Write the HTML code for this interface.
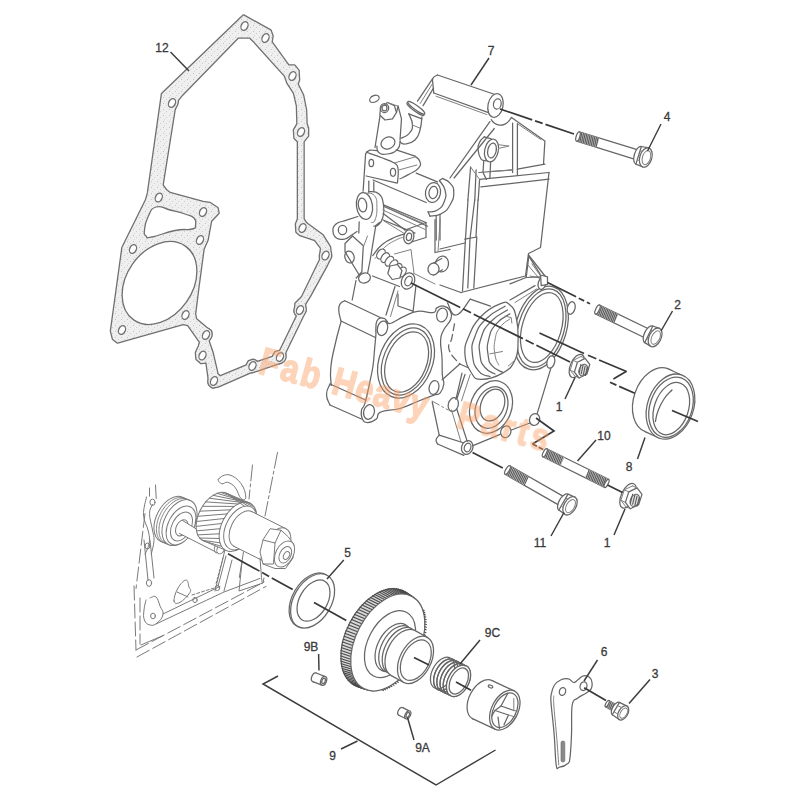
<!DOCTYPE html>
<html><head><meta charset="utf-8"><title>Parts diagram</title>
<style>
html,body{margin:0;padding:0;background:#fff;}
body{width:800px;height:800px;overflow:hidden;font-family:"Liberation Sans",sans-serif;}
svg{display:block;filter:blur(0.4px)}
.l{fill:none;stroke:#666;stroke-width:1.25;stroke-linejoin:round;stroke-linecap:round}
.lt{fill:none;stroke:#808080;stroke-width:1;stroke-linejoin:round;stroke-linecap:round}
.lf{fill:#fff;stroke:#666;stroke-width:1.25;stroke-linejoin:round;stroke-linecap:round}
.p{fill:none;stroke:#7a7a7a;stroke-width:1;stroke-linejoin:round;stroke-linecap:round}
.pf{fill:#fff;stroke:#7a7a7a;stroke-width:1;stroke-linejoin:round;stroke-linecap:round}
.th{fill:#bdbdbd;stroke:none}
.tl{fill:none;stroke:#555;stroke-width:1}
.hole{fill:#ddd;stroke:#666;stroke-width:1}
.wf{fill:#fff;stroke:none}
.tb{fill:#d8d8d8;stroke:#555;stroke-width:1.2}
.tt{fill:none;stroke:#4a4a4a;stroke-width:1.1}
.d{fill:none;stroke:#383838;stroke-width:1.7;stroke-linecap:butt}
.g{fill:#ebebeb;stroke:#707070;stroke-width:1.3;stroke-linejoin:round;fill-rule:evenodd}
.gs{fill:none;stroke:#707070;stroke-width:2.6;stroke-linejoin:round}
.gf{fill:url(#stp);stroke:none;fill-rule:evenodd}
.gh{fill:#fff;stroke:#707070;stroke-width:1.3}
text{font-family:"Liberation Sans",sans-serif;fill:#3a3a3a;stroke:#3a3a3a;stroke-width:0.3}
.ld{fill:none;stroke:#3c3c3c;stroke-width:1.45;stroke-linecap:butt}
</style></head><body>
<svg width="800" height="800" viewBox="0 0 800 800">
<rect width="800" height="800" fill="#fff"/>
<defs><pattern id="stp" width="6" height="6" patternUnits="userSpaceOnUse"><rect width="6" height="6" fill="#efefef"/><rect x="1" y="1" width="1" height="1" fill="#c4c4c4"/><rect x="4" y="3" width="1" height="1" fill="#cfcfcf"/><rect x="2" y="5" width="1" height="1" fill="#d8d8d8"/></pattern></defs>
<path class="gs" d="M243.5,15.5 L270.5,30.5 L272.5,36 L271.5,42 L288.5,65.5 L294.5,65.5 L298.5,70.5 L299,80 L297.5,84 L303,95 L306,110 L306.5,124 L308,128 L308,136 L303.5,141.5 L303.5,219 L306,223 L322.5,235 L330,247 L331,257 L327,265 L310,296 L305,304 L305.5,311 L302.5,317 L285.5,352 L284,359 L279.5,363 L256,371 L250,372.5 L218,386.5 L212.5,387.5 L209,384 L208.5,377 L206.5,362.5 L201,363 L196.5,359 L196,352.5 L199,346 L200,342 L188,325 L183,324 L117.5,342.5 L113,339 L111,331 L122.5,247.5 L146,200 L148,193 L162,94 L164,92Z M238,37.5 L250,37.5 L254,41.5 L285,76 L287.5,83 L294,93 L297,106 L297.5,124 L294,130 L294.5,138 L298,141.5 L298,219 L296,224 L296.5,232 L300,235 L315,240 L321,248 L320,260 L318,264 L302,297 L295.5,303.5 L295,312 L297,316 L280,351 L275.5,352 L272.5,357 L256,362.5 L249,361 L246.5,365.5 L220,376.5 L217.5,374 L212.5,352.5 L208.5,341 L211,336 L211,331 L206,327.5 L196,319 L195,314 L198,290 L203.5,249 L207.5,240 L211,221 L218.5,213 L217.5,208 L210,203 L203,202 L170,193 L166,190 L162.5,185 L174.5,110 L178,100 L182,95Z" />
<ellipse class="gs" cx="244.5" cy="26.0" rx="5.4" ry="6.2" transform="rotate(25 244.5 26.0)" />
<ellipse class="gs" cx="265.5" cy="38.0" rx="5.4" ry="6.2" transform="rotate(25 265.5 38.0)" />
<ellipse class="gs" cx="292.5" cy="76.0" rx="5.4" ry="6.2" transform="rotate(25 292.5 76.0)" />
<ellipse class="gs" cx="301.0" cy="132.0" rx="5.4" ry="6.2" transform="rotate(25 301.0 132.0)" />
<ellipse class="gs" cx="302.5" cy="228.0" rx="5.4" ry="6.2" transform="rotate(25 302.5 228.0)" />
<ellipse class="gs" cx="325.5" cy="255.5" rx="5.4" ry="6.2" transform="rotate(25 325.5 255.5)" />
<ellipse class="gs" cx="300.0" cy="310.0" rx="5.4" ry="6.2" transform="rotate(25 300.0 310.0)" />
<ellipse class="gs" cx="280.0" cy="357.0" rx="5.4" ry="6.2" transform="rotate(25 280.0 357.0)" />
<ellipse class="gs" cx="252.5" cy="366.0" rx="5.4" ry="6.2" transform="rotate(25 252.5 366.0)" />
<ellipse class="gs" cx="214.0" cy="381.0" rx="5.4" ry="6.2" transform="rotate(25 214.0 381.0)" />
<ellipse class="gs" cx="202.5" cy="355.5" rx="5.4" ry="6.2" transform="rotate(25 202.5 355.5)" />
<ellipse class="gs" cx="206.0" cy="335.0" rx="5.4" ry="6.2" transform="rotate(25 206.0 335.0)" />
<ellipse class="gs" cx="185.5" cy="315.0" rx="5.4" ry="6.2" transform="rotate(25 185.5 315.0)" />
<ellipse class="gs" cx="122.0" cy="330.0" rx="5.4" ry="6.2" transform="rotate(25 122.0 330.0)" />
<ellipse class="gs" cx="133.0" cy="249.0" rx="5.4" ry="6.2" transform="rotate(25 133.0 249.0)" />
<ellipse class="gs" cx="158.8" cy="197.5" rx="5.4" ry="6.2" transform="rotate(25 158.8 197.5)" />
<ellipse class="gs" cx="203.0" cy="212.0" rx="5.4" ry="6.2" transform="rotate(25 203.0 212.0)" />
<ellipse class="gs" cx="200.0" cy="240.0" rx="5.4" ry="6.2" transform="rotate(25 200.0 240.0)" />
<ellipse class="gs" cx="172.0" cy="103.0" rx="5.4" ry="6.2" transform="rotate(25 172.0 103.0)" />
<path class="gf" d="M243.5,15.5 L270.5,30.5 L272.5,36 L271.5,42 L288.5,65.5 L294.5,65.5 L298.5,70.5 L299,80 L297.5,84 L303,95 L306,110 L306.5,124 L308,128 L308,136 L303.5,141.5 L303.5,219 L306,223 L322.5,235 L330,247 L331,257 L327,265 L310,296 L305,304 L305.5,311 L302.5,317 L285.5,352 L284,359 L279.5,363 L256,371 L250,372.5 L218,386.5 L212.5,387.5 L209,384 L208.5,377 L206.5,362.5 L201,363 L196.5,359 L196,352.5 L199,346 L200,342 L188,325 L183,324 L117.5,342.5 L113,339 L111,331 L122.5,247.5 L146,200 L148,193 L162,94 L164,92Z M238,37.5 L250,37.5 L254,41.5 L285,76 L287.5,83 L294,93 L297,106 L297.5,124 L294,130 L294.5,138 L298,141.5 L298,219 L296,224 L296.5,232 L300,235 L315,240 L321,248 L320,260 L318,264 L302,297 L295.5,303.5 L295,312 L297,316 L280,351 L275.5,352 L272.5,357 L256,362.5 L249,361 L246.5,365.5 L220,376.5 L217.5,374 L212.5,352.5 L208.5,341 L211,336 L211,331 L206,327.5 L196,319 L195,314 L198,290 L203.5,249 L207.5,240 L211,221 L218.5,213 L217.5,208 L210,203 L203,202 L170,193 L166,190 L162.5,185 L174.5,110 L178,100 L182,95Z" />
<ellipse class="gf" cx="244.5" cy="26.0" rx="5.4" ry="6.2" transform="rotate(25 244.5 26.0)" />
<ellipse class="gf" cx="265.5" cy="38.0" rx="5.4" ry="6.2" transform="rotate(25 265.5 38.0)" />
<ellipse class="gf" cx="292.5" cy="76.0" rx="5.4" ry="6.2" transform="rotate(25 292.5 76.0)" />
<ellipse class="gf" cx="301.0" cy="132.0" rx="5.4" ry="6.2" transform="rotate(25 301.0 132.0)" />
<ellipse class="gf" cx="302.5" cy="228.0" rx="5.4" ry="6.2" transform="rotate(25 302.5 228.0)" />
<ellipse class="gf" cx="325.5" cy="255.5" rx="5.4" ry="6.2" transform="rotate(25 325.5 255.5)" />
<ellipse class="gf" cx="300.0" cy="310.0" rx="5.4" ry="6.2" transform="rotate(25 300.0 310.0)" />
<ellipse class="gf" cx="280.0" cy="357.0" rx="5.4" ry="6.2" transform="rotate(25 280.0 357.0)" />
<ellipse class="gf" cx="252.5" cy="366.0" rx="5.4" ry="6.2" transform="rotate(25 252.5 366.0)" />
<ellipse class="gf" cx="214.0" cy="381.0" rx="5.4" ry="6.2" transform="rotate(25 214.0 381.0)" />
<ellipse class="gf" cx="202.5" cy="355.5" rx="5.4" ry="6.2" transform="rotate(25 202.5 355.5)" />
<ellipse class="gf" cx="206.0" cy="335.0" rx="5.4" ry="6.2" transform="rotate(25 206.0 335.0)" />
<ellipse class="gf" cx="185.5" cy="315.0" rx="5.4" ry="6.2" transform="rotate(25 185.5 315.0)" />
<ellipse class="gf" cx="122.0" cy="330.0" rx="5.4" ry="6.2" transform="rotate(25 122.0 330.0)" />
<ellipse class="gf" cx="133.0" cy="249.0" rx="5.4" ry="6.2" transform="rotate(25 133.0 249.0)" />
<ellipse class="gf" cx="158.8" cy="197.5" rx="5.4" ry="6.2" transform="rotate(25 158.8 197.5)" />
<ellipse class="gf" cx="203.0" cy="212.0" rx="5.4" ry="6.2" transform="rotate(25 203.0 212.0)" />
<ellipse class="gf" cx="200.0" cy="240.0" rx="5.4" ry="6.2" transform="rotate(25 200.0 240.0)" />
<ellipse class="gf" cx="172.0" cy="103.0" rx="5.4" ry="6.2" transform="rotate(25 172.0 103.0)" />
<ellipse class="gh" cx="159.5" cy="283.0" rx="45.0" ry="33.0" transform="rotate(-55 159.5 283.0)" />
<path class="gh" d="M156.0,207.0 C161.9,205.1 162.3,208.1 170.0,210.0 C177.7,211.9 178.6,211.9 185.0,214.0 C191.4,216.1 191.2,215.1 194.0,218.0 C196.8,220.9 196.0,222.1 195.5,225.0 C195.0,227.9 197.5,227.5 192.0,229.0 C186.5,230.5 185.7,228.4 175.0,230.5 C164.3,232.6 159.7,235.5 152.0,237.0 C144.3,238.5 148.0,237.9 146.0,236.0 C144.0,234.1 144.0,235.1 144.5,230.0 C145.0,224.9 144.9,223.1 148.0,217.0 C151.1,210.9 150.1,208.9 156.0,207.0Z" />
<ellipse class="gh" cx="244.5" cy="26.0" rx="3.3" ry="4.6" transform="rotate(25 244.5 26.0)" />
<ellipse class="gh" cx="265.5" cy="38.0" rx="3.3" ry="4.6" transform="rotate(25 265.5 38.0)" />
<ellipse class="gh" cx="292.5" cy="76.0" rx="3.3" ry="4.6" transform="rotate(25 292.5 76.0)" />
<ellipse class="gh" cx="301.0" cy="132.0" rx="3.3" ry="4.6" transform="rotate(25 301.0 132.0)" />
<ellipse class="gh" cx="302.5" cy="228.0" rx="3.3" ry="4.6" transform="rotate(25 302.5 228.0)" />
<ellipse class="gh" cx="325.5" cy="255.5" rx="3.3" ry="4.6" transform="rotate(25 325.5 255.5)" />
<ellipse class="gh" cx="300.0" cy="310.0" rx="3.3" ry="4.6" transform="rotate(25 300.0 310.0)" />
<ellipse class="gh" cx="280.0" cy="357.0" rx="3.3" ry="4.6" transform="rotate(25 280.0 357.0)" />
<ellipse class="gh" cx="252.5" cy="366.0" rx="3.3" ry="4.6" transform="rotate(25 252.5 366.0)" />
<ellipse class="gh" cx="214.0" cy="381.0" rx="3.3" ry="4.6" transform="rotate(25 214.0 381.0)" />
<ellipse class="gh" cx="202.5" cy="355.5" rx="3.3" ry="4.6" transform="rotate(25 202.5 355.5)" />
<ellipse class="gh" cx="206.0" cy="335.0" rx="3.3" ry="4.6" transform="rotate(25 206.0 335.0)" />
<ellipse class="gh" cx="185.5" cy="315.0" rx="3.3" ry="4.6" transform="rotate(25 185.5 315.0)" />
<ellipse class="gh" cx="122.0" cy="330.0" rx="3.3" ry="4.6" transform="rotate(25 122.0 330.0)" />
<ellipse class="gh" cx="133.0" cy="249.0" rx="3.3" ry="4.6" transform="rotate(25 133.0 249.0)" />
<ellipse class="gh" cx="158.8" cy="197.5" rx="3.3" ry="4.6" transform="rotate(25 158.8 197.5)" />
<ellipse class="gh" cx="203.0" cy="212.0" rx="3.3" ry="4.6" transform="rotate(25 203.0 212.0)" />
<ellipse class="gh" cx="200.0" cy="240.0" rx="3.3" ry="4.6" transform="rotate(25 200.0 240.0)" />
<ellipse class="gh" cx="172.0" cy="103.0" rx="3.3" ry="4.6" transform="rotate(25 172.0 103.0)" />
<polyline class="l" points="437.5,75.0 495.0,94.5" />
<polyline class="l" points="433.8,93.0 488.5,112.7" />
<polyline class="lt" points="436.0,96.2 487.0,114.6" />
<path class="l" d="M437.5,75 C434,76.5 432.3,77.5 432.5,80 L433.75,93" />
<ellipse class="lf" cx="495.5" cy="105.5" rx="7.5" ry="12.0" transform="rotate(12 495.5 105.5)" />
<ellipse class="lf" cx="497.3" cy="104.0" rx="3.8" ry="5.2" transform="rotate(12 497.3 104.0)" />
<polyline class="l" points="432.5,78.8 417.5,101.2" />
<polyline class="l" points="433.5,88.1 423.1,105.6" />
<polyline class="lt" points="432.8,83.1 420.2,103.5" />
<ellipse class="lf" cx="415.5" cy="109.0" rx="10.5" ry="2.2" transform="rotate(36 415.5 109.0)" />
<ellipse class="lf" cx="416.3" cy="107.8" rx="10.5" ry="2.2" transform="rotate(36 416.3 107.8)" />
<path class="l" d="M421.9,116.9 C421.4,120.4 421.8,123.8 420.0,130.0 C418.2,136.2 419.0,136.3 415.0,140.0 C411.0,143.7 409.0,143.5 405.0,144.0 C401.0,144.5 401.3,142.4 400.0,141.9" />
<path class="l" d="M408.8,113.8 C409.8,116.8 412.5,119.7 412.5,125.0 C412.5,130.3 411.8,130.2 408.8,133.8 C405.8,137.2 403.2,137.0 401.2,138.1" />
<polyline class="l" points="408.8,113.8 421.9,118.8" />
<polyline class="lt" points="412.5,125.0 420.0,128.1" />
<ellipse class="l" cx="374.4" cy="98.8" rx="5.0" ry="3.2" transform="rotate(-25 374.4 98.8)" />
<polyline class="l" points="380.0,116.2 375.0,147.5" />
<polyline class="l" points="398.1,106.2 401.5,118.8 400.0,140.0" />
<path class="l" d="M376.9,146.2 C377.4,147.9 375.9,150.4 378.8,152.5 C381.6,154.6 382.5,154.8 387.5,154.0 C392.5,153.2 394.1,152.8 397.5,149.4 C400.9,146.0 399.5,143.4 400.2,141.2" />
<ellipse class="l" cx="388.0" cy="143.0" rx="7.2" ry="5.8" transform="rotate(-25 388.0 143.0)" />
<polygon class="l" points="387.5,102.5 394.4,105.6 396.5,112.5 392.5,118.8 385.0,120.0 379.8,115.0 380.6,107.5" />
<ellipse class="l" cx="384.5" cy="108.0" rx="4.2" ry="4.5" transform="rotate(0 384.5 108.0)" />
<ellipse class="l" cx="384.5" cy="108.0" rx="2.5" ry="2.8" transform="rotate(0 384.5 108.0)" />
<polyline class="l" points="396.5,112.5 398.1,106.2" />
<polyline class="lt" points="380.6,107.5 387.5,102.5 398.1,106.2" />
<polyline class="l" points="366.9,151.9 365.6,153.8 363.1,191.2" />
<polyline class="l" points="366.9,151.9 370.0,150.0 376.9,150.6" />
<polyline class="l" points="396.2,149.8 415.0,156.2" />
<path class="l" d="M366.9,152.5 C369.8,153.5 375.8,155.4 381.2,157.5 C386.8,159.6 391.0,160.8 394.4,163.1 C397.8,165.5 397.5,165.5 398.1,169.4 C398.8,173.2 397.6,179.9 397.5,182.5" />
<polyline class="l" points="366.2,176.0 397.2,183.1" />
<path class="l" d="M415.0,156.2 C416.3,157.6 418.8,158.1 419.8,161.2 C420.7,164.4 421.4,164.6 418.5,168.1 C415.6,171.6 413.7,171.5 408.8,174.4 C403.8,177.2 402.3,177.6 400.0,178.8" />
<polyline class="lt" points="395.0,162.8 415.0,156.9" />
<polyline class="lt" points="399.4,169.8 416.9,165.0" />
<ellipse class="l" cx="371.3" cy="163.0" rx="2.3" ry="3.6" transform="rotate(0 371.3 163.0)" />
<ellipse class="l" cx="393.0" cy="172.3" rx="2.6" ry="4.0" transform="rotate(0 393.0 172.3)" />
<polyline class="l" points="416.2,173.1 437.5,181.9" />
<polyline class="l" points="373.1,180.0 426.2,202.5" />
<ellipse class="lf" cx="433.0" cy="192.5" rx="7.5" ry="10.0" transform="rotate(10 433.0 192.5)" />
<ellipse class="lf" cx="433.3" cy="192.5" rx="4.3" ry="6.2" transform="rotate(10 433.3 192.5)" />
<path class="l" d="M442.5,178.5 C444.5,179.7 447.0,179.4 450.0,183.1 C453.0,186.9 453.8,186.7 453.8,192.5 C453.8,198.3 453.3,199.3 450.0,205.0 C446.7,210.7 446.6,210.8 441.2,213.8 C435.9,216.8 433.0,215.6 430.0,216.2" />
<path class="l" d="M439.4,180.6 C440.9,183.1 443.7,184.5 445.0,190.0 C446.3,195.5 446.4,195.9 444.4,201.2 C442.4,206.6 441.8,207.2 437.5,210.0 C433.2,212.8 430.6,211.4 428.1,211.9" />
<polyline class="l" points="439.4,180.6 442.5,178.5" />
<polyline class="l" points="428.1,211.9 430.0,216.2" />
<polyline class="l" points="436.2,215.6 436.2,240.0" />
<polyline class="l" points="440.0,214.4 440.0,240.0" />
<polyline class="l" points="368.8,181.2 368.8,192.5" />
<polyline class="l" points="373.8,181.9 373.8,191.2" />
<ellipse class="lf" cx="364.5" cy="206.0" rx="8.0" ry="13.5" transform="rotate(-8 364.5 206.0)" />
<path class="l" d="M368.8,191.5 C371.4,192.1 374.8,190.2 378.8,193.8 C382.7,197.3 382.4,198.7 383.5,205.0 C384.6,211.3 384.2,212.2 382.8,217.5 C381.3,222.8 380.5,222.7 378.1,225.0 C375.7,227.3 374.9,225.9 373.8,226.2" />
<path class="lt" d="M365.0,193.1 C367.5,193.8 371.2,191.8 374.4,195.6 C377.5,199.5 376.7,201.0 376.9,207.5 C377.0,214.0 376.5,216.0 375.0,220.0 C373.5,224.0 372.2,221.8 371.2,222.5" />
<ellipse class="l" cx="362.5" cy="205.0" rx="4.2" ry="7.0" transform="rotate(-8 362.5 205.0)" />
<polyline class="l" points="383.5,206.2 427.5,226.2" />
<polyline class="lt" points="382.8,210.0 425.0,229.4" />
<polyline class="l" points="383.1,220.0 415.0,233.1" />
<path class="l" d="M491.2,119.6 C492.5,120.8 492.4,122.9 496.1,124.1 C499.7,125.3 500.9,125.9 505.0,124.1 C509.1,122.3 509.7,119.3 511.5,117.5" />
<polyline class="l" points="489.9,121.6 450.0,178.0" />
<polyline class="l" points="494.3,128.5 454.1,178.0" />
<polyline class="l" points="512.6,123.0 512.6,172.5" />
<polyline class="l" points="517.4,123.7 517.4,175.2" />
<polyline class="l" points="511.5,117.5 544.9,140.9 543.5,164.2" />
<polyline class="lt" points="517.4,123.7 540.8,139.5" />
<polyline class="l" points="484.4,136.8 491.2,138.8" />
<path class="l" d="M484.4,136.8 C483.1,138.2 481.2,138.6 479.6,142.2 C477.9,145.9 477.8,146.1 478.2,150.5 C478.6,154.9 478.8,156.0 480.9,158.8 C483.0,161.5 484.7,160.3 486.0,160.8" />
<ellipse class="lf" cx="491.5" cy="150.5" rx="6.8" ry="11.5" transform="rotate(12 491.5 150.5)" />
<ellipse class="lf" cx="492.0" cy="150.5" rx="4.2" ry="7.6" transform="rotate(12 492.0 150.5)" />
<polyline class="lt" points="498.4,144.7 509.1,146.1 498.4,148.4" />
<polyline class="l" points="483.7,161.5 483.0,172.5 486.4,179.4" />
<polyline class="l" points="490.6,162.2 489.9,178.0" />
<polyline class="l" points="478.9,172.5 512.6,169.8" />
<polyline class="lt" points="491.2,171.4 512.6,170.0" />
<polyline class="l" points="517.4,169.1 544.9,164.2" />
<polyline class="l" points="479.6,179.4 549.0,172.5" />
<polyline class="l" points="480.9,186.9 549.0,179.1" />
<polyline class="l" points="470.6,167.0 467.9,200.0" />
<polyline class="l" points="476.1,169.8 474.8,200.0" />
<polyline class="l" points="479.6,179.4 478.2,200.0" />
<polyline class="lt" points="470.6,167.0 479.6,179.4" />
<polyline class="l" points="549.0,172.5 540.5,247.5 528.5,253.5 525.5,276.0 461.0,292.5" />
<polyline class="l" points="468.0,200.0 465.5,238.5 462.5,291.0" />
<polyline class="l" points="474.7,200.0 470.0,238.5 467.8,288.0" />
<polyline class="l" points="478.0,200.0 476.0,237.0" />
<polyline class="l" points="464.8,239.2 476.8,237.0 473.8,288.0" />
<polyline class="l" points="440.0,249.0 464.8,243.0" />
<polyline class="l" points="440.0,285.0 461.0,292.5" />
<polyline class="l" points="528.5,255.0 545.0,276.0" />
<polyline class="lt" points="527.0,264.0 543.5,283.5" />
<polyline class="lt" points="530.0,276.0 545.0,279.0" />
<path class="l" d="M357.8,216.5 C355.1,217.4 351.6,218.5 346.5,220.2 C341.4,222.0 339.1,221.4 336.0,224.0 C332.9,226.6 332.8,228.2 333.0,231.5 C333.2,234.8 333.9,236.5 336.8,238.2 C339.6,240.0 341.9,239.5 345.0,239.0 C348.1,238.5 347.4,237.8 350.2,236.0 C353.1,234.2 355.4,232.6 357.0,231.5" />
<ellipse class="l" cx="342.5" cy="230.0" rx="4.2" ry="4.6" transform="rotate(0 342.5 230.0)" />
<polyline class="l" points="352.5,236.0 363.3,245.8 361.8,272.0 356.2,278.0" />
<polyline class="l" points="352.5,236.0 345.0,243.5 345.0,251.8 359.2,275.0" />
<ellipse class="l" cx="349.5" cy="257.0" rx="4.6" ry="6.0" transform="rotate(-15 349.5 257.0)" />
<polyline class="l" points="359.2,221.8 358.8,233.0" />
<polyline class="l" points="375.8,225.5 370.2,260.0 367.5,273.5" />
<polyline class="l" points="379.5,222.5 375.8,225.5" />
<polyline class="lt" points="367.5,236.0 363.8,245.8" />
<ellipse class="lf" cx="364.5" cy="278.0" rx="6.0" ry="5.0" transform="rotate(-20 364.5 278.0)" />
<path class="l" d="M372.8,255.5 C375.4,252.5 376.3,249.2 382.5,244.2 C388.7,239.2 390.0,239.6 396.0,236.8 C402.0,233.9 402.6,234.6 405.0,233.8" />
<path class="lt" d="M375.0,258.5 C377.6,255.5 378.8,252.4 384.8,247.2 C390.8,242.1 392.2,242.0 397.5,239.3 C402.8,236.6 402.8,237.8 404.7,237.2" />
<polyline class="l" points="405.0,230.0 426.0,222.5 426.0,237.5 406.5,243.5" />
<ellipse class="lf" cx="408.8" cy="236.8" rx="5.0" ry="7.0" transform="rotate(10 408.8 236.8)" />
<ellipse class="l" cx="409.0" cy="236.8" rx="2.6" ry="3.8" transform="rotate(10 409.0 236.8)" />
<polyline class="l" points="384.0,205.2 426.0,222.5" />
<polyline class="l" points="383.2,213.5 405.0,230.0" />
<polyline class="lt" points="384.0,221.0 403.5,233.0" />
<polyline class="lt" points="387.0,207.5 423.0,223.2" />
<polyline class="l" points="435.0,219.5 435.0,252.5 450.0,249.5" />
<polyline class="lt" points="440.2,219.5 438.0,251.8" />
<ellipse class="lf" cx="381.0" cy="254.0" rx="3.6" ry="5.4" transform="rotate(35 381.0 254.0)" />
<ellipse class="lf" cx="385.2" cy="257.6" rx="3.6" ry="5.4" transform="rotate(35 385.2 257.6)" />
<ellipse class="lf" cx="389.4" cy="261.2" rx="3.6" ry="5.4" transform="rotate(35 389.4 261.2)" />
<ellipse class="lf" cx="393.6" cy="264.8" rx="3.6" ry="5.4" transform="rotate(35 393.6 264.8)" />
<ellipse class="lf" cx="397.8" cy="268.4" rx="3.6" ry="5.4" transform="rotate(35 397.8 268.4)" />
<ellipse class="lf" cx="402.0" cy="272.0" rx="3.6" ry="5.4" transform="rotate(35 402.0 272.0)" />
<polygon class="lf" points="390.0,266.0 397.5,264.5 402.0,270.5 399.8,278.0 392.2,279.5 387.8,273.5" />
<ellipse class="lf" cx="408.0" cy="281.0" rx="6.4" ry="8.4" transform="rotate(25 408.0 281.0)" />
<ellipse class="l" cx="408.5" cy="281.0" rx="3.4" ry="5.0" transform="rotate(25 408.5 281.0)" />
<ellipse class="lf" cx="442.0" cy="264.0" rx="6.5" ry="8.0" transform="rotate(10 442.0 264.0)" />
<polyline class="l" points="433.5,263.0 441.8,258.5" />
<polyline class="l" points="433.5,275.0 442.5,269.8" />
<ellipse class="lf" cx="433.5" cy="269.0" rx="5.5" ry="6.0" transform="rotate(10 433.5 269.0)" />
<polyline class="lt" points="394.5,254.0 411.0,249.5 414.0,273.5" />
<polyline class="lt" points="414.0,273.5 435.0,284.0" />
<polyline class="l" points="356.0,280.5 352.2,300.0" />
<polyline class="l" points="344.8,300.8 384.5,319.5" />
<polyline class="l" points="341.0,321.0 378.5,339.0" />
<path class="l" d="M344.8,300.8 C343.6,301.6 341.9,301.1 340.2,303.8 C338.6,306.4 338.6,305.9 338.8,310.5 C338.9,315.1 340.4,318.2 341.0,321.0" />
<ellipse class="lf" cx="382.3" cy="328.5" rx="6.0" ry="9.6" transform="rotate(12 382.3 328.5)" />
<ellipse class="l" cx="382.6" cy="328.5" rx="3.8" ry="6.4" transform="rotate(12 382.6 328.5)" />
<path class="l" d="M341.0,321.8 C339.4,327.9 337.7,332.8 335.0,345.0 C332.3,357.2 331.8,356.7 330.8,367.5 C329.8,378.3 331.1,380.7 331.2,385.5" />
<polyline class="l" points="372.5,276.0 399.5,286.5" />
<polyline class="l" points="395.0,286.5 386.0,315.0" />
<polyline class="lt" points="398.0,291.0 390.5,316.5" />
<polyline class="l" points="398.0,294.0 398.0,306.0 413.0,311.2" />
<polyline class="l" points="416.0,285.0 413.0,312.0" />
<path class="lf" d="M375.9,335.0 C376.4,328.5 374.9,324.9 376.9,321.0 C378.9,317.1 381.3,317.8 384.2,318.4 C387.2,319.0 385.0,324.0 389.5,323.6 C394.0,323.2 397.0,319.5 403.5,316.6 C410.0,313.8 410.6,312.3 417.5,311.4 C424.4,310.4 428.8,313.4 433.2,312.6 C437.7,311.8 434.3,309.4 436.8,307.9 C439.2,306.4 440.7,305.5 443.8,306.1 C446.8,306.7 448.2,307.4 449.9,310.5 C451.5,313.6 452.2,314.8 450.8,319.2 C449.3,323.7 446.1,324.9 443.8,329.8 C441.4,334.6 441.0,333.7 440.6,340.2 C440.2,346.8 441.6,349.6 442.0,357.8 C442.4,365.9 441.9,369.1 442.4,375.2 C442.8,381.4 444.2,379.9 443.8,384.0 C443.3,388.1 442.7,390.1 440.2,392.8 C437.8,395.4 438.6,393.3 433.2,395.4 C427.9,397.4 425.3,398.4 417.5,401.5 C409.7,404.6 408.6,406.1 400.0,408.5 C391.4,410.9 386.3,409.6 380.8,412.0 C375.2,414.4 379.4,416.6 376.4,419.0 C373.3,421.4 370.9,422.5 367.6,422.5 C364.4,422.5 363.8,421.9 362.4,419.0 C360.9,416.1 360.9,413.9 361.5,410.2 C362.1,406.6 363.2,409.4 365.0,403.2 C366.8,397.1 367.5,392.6 369.4,384.0 C371.2,375.4 371.6,374.7 372.9,366.5 C374.1,358.3 373.9,356.4 374.6,349.0 C375.3,341.6 375.3,341.5 375.9,335.0Z" />
<ellipse class="lf" cx="406.0" cy="361.0" rx="26.5" ry="38.5" transform="rotate(22 406.0 361.0)" />
<ellipse class="l" cx="406.3" cy="361.5" rx="23.0" ry="35.0" transform="rotate(22 406.3 361.5)" />
<ellipse class="l" cx="406.6" cy="362.0" rx="20.0" ry="31.5" transform="rotate(22 406.6 362.0)" />
<ellipse class="lf" cx="382.5" cy="328.3" rx="5.0" ry="7.4" transform="rotate(15 382.5 328.3)" />
<ellipse class="lf" cx="442.0" cy="315.0" rx="5.3" ry="7.0" transform="rotate(15 442.0 315.0)" />
<ellipse class="lf" cx="434.0" cy="387.5" rx="4.8" ry="7.0" transform="rotate(15 434.0 387.5)" />
<ellipse class="lf" cx="369.0" cy="412.0" rx="5.3" ry="7.4" transform="rotate(15 369.0 412.0)" />
<polyline class="l" points="330.0,384.0 365.0,399.8" />
<polyline class="l" points="330.0,405.0 361.5,419.0" />
<path class="l" d="M330.0,384.0 C329.1,386.8 326.5,388.9 326.5,394.5 C326.5,400.1 329.1,402.2 330.0,405.0" />
<ellipse class="lf" cx="541.0" cy="328.0" rx="25.5" ry="43.0" transform="rotate(16.6 541.0 328.0)" />
<ellipse class="l" cx="541.3" cy="328.0" rx="22.8" ry="40.3" transform="rotate(16.6 541.3 328.0)" />
<ellipse class="l" cx="541.8" cy="327.5" rx="19.5" ry="36.0" transform="rotate(16.6 541.8 327.5)" />
<path class="lf" d="M500.0,303.8 C506.7,301.1 506.2,301.8 510.0,305.0 C513.8,308.2 514.4,309.3 516.2,317.5 C518.1,325.7 518.4,330.1 518.1,340.0 C517.8,349.9 518.6,352.3 515.0,360.0 C511.4,367.7 510.4,368.6 502.5,373.1 C494.6,377.6 488.5,379.5 481.2,379.4 C474.0,379.2 475.0,378.2 471.2,372.5 C467.5,366.8 465.6,363.5 465.0,355.0 C464.4,346.5 465.0,345.3 468.8,336.2 C472.5,327.2 474.0,323.8 481.2,316.2 C488.5,308.7 493.3,306.4 500.0,303.8Z" />
<path class="l" d="M505.0,306.2 C500.0,309.6 494.2,310.8 486.2,318.8 C478.2,326.8 478.7,326.6 475.0,336.2 C471.3,345.9 471.5,345.7 472.5,355.0 C473.5,364.3 474.1,365.5 478.8,371.2 C483.4,377.0 487.0,375.1 490.0,376.5" />
<path class="l" d="M507.5,310.0 C503.2,313.0 498.2,313.9 491.2,321.2 C484.2,328.6 484.2,328.5 481.2,337.5 C478.2,346.5 479.0,347.0 480.0,355.0 C481.0,363.0 481.0,362.4 485.0,367.5 C489.0,372.6 492.3,372.3 495.0,374.0" />
<path class="l" d="M510.0,313.8 C506.3,316.4 501.9,317.1 496.2,323.8 C490.6,330.4 490.9,330.4 488.8,338.8 C486.6,347.1 487.1,347.7 488.1,355.0 C489.1,362.3 488.7,361.7 492.5,366.2 C496.3,370.8 499.8,370.6 502.5,372.1" />
<path class="lt" d="M510.0,318.8 C507.3,321.1 504.0,321.8 500.0,327.5 C496.0,333.2 496.3,332.7 495.0,340.0 C493.7,347.3 494.0,348.3 495.0,355.0 C496.0,361.7 497.8,362.3 498.8,365.0" />
<polyline class="lt" points="490.0,353.8 502.5,351.5" />
<polyline class="lt" points="505.0,316.2 511.2,317.5 511.9,323.1" />
<polyline class="lt" points="508.1,366.2 515.0,360.0" />
<path class="l" d="M447.5,302.8 C449.8,306.0 450.2,315.9 456.2,315.0 C462.3,314.1 466.5,303.4 470.2,299.2" />
<polyline class="l" points="470.2,299.2 490.4,306.2" />
<path class="l" d="M454.5,323.8 C453.8,327.5 453.3,330.8 451.9,337.8 C450.5,344.8 447.1,343.0 449.2,350.0 C451.4,357.0 456.9,360.3 459.8,364.0" stroke-dasharray="7 4"/>
<polyline class="l" points="459.8,364.0 442.2,379.8" />
<polyline class="l" points="465.0,374.5 456.2,400.8" />
<polyline class="lt" points="470.2,374.5 461.5,400.8" />
<polyline class="l" points="459.8,364.0 467.6,367.5" />
<ellipse class="lf" cx="550.8" cy="362.0" rx="3.8" ry="6.3" transform="rotate(15 550.8 362.0)" />
<ellipse class="lf" cx="542.0" cy="283.5" rx="3.8" ry="6.0" transform="rotate(15 542.0 283.5)" />
<polyline class="l" points="550.8,368.4 537.1,413.9" />
<ellipse class="lf" cx="491.0" cy="407.0" rx="20.5" ry="27.0" transform="rotate(22 491.0 407.0)" />
<ellipse class="l" cx="491.5" cy="407.5" rx="15.5" ry="21.5" transform="rotate(22 491.5 407.5)" />
<ellipse class="l" cx="492.5" cy="405.0" rx="11.5" ry="16.5" transform="rotate(22 492.5 405.0)" />
<ellipse class="lf" cx="453.3" cy="404.6" rx="5.0" ry="7.0" transform="rotate(15 453.3 404.6)" />
<ellipse class="lf" cx="505.8" cy="431.8" rx="5.0" ry="6.0" transform="rotate(20 505.8 431.8)" />
<ellipse class="lf" cx="534.6" cy="419.5" rx="5.0" ry="6.0" transform="rotate(20 534.6 419.5)" />
<polyline class="l" points="439.2,435.2 467.2,444.0" />
<polyline class="l" points="437.5,444.0 463.8,455.4" />
<path class="l" d="M439.2,435.2 C438.4,436.4 436.6,437.3 436.1,439.6 C435.6,442.0 437.1,442.8 437.5,444.0" />
<ellipse class="lf" cx="467.2" cy="447.5" rx="5.6" ry="7.0" transform="rotate(20 467.2 447.5)" />
<ellipse class="l" cx="467.6" cy="447.5" rx="3.2" ry="4.4" transform="rotate(20 467.6 447.5)" />
<polyline class="l" points="472.5,445.8 500.1,434.4" />
<polyline class="l" points="511.4,430.0 529.9,423.0" />
<polyline class="l" points="432.2,402.0 439.2,435.2" />
<polyline class="l" points="462.0,373.1 455.9,399.4" />
<polyline class="l" points="456.8,409.0 467.2,441.4" />
<polyline class="lt" points="451.5,409.9 461.1,442.2" />
<polyline class="lt" points="432.2,401.1 448.0,409.9" stroke-dasharray="8 3 2 3"/>
<ellipse class="lf" cx="571.2" cy="308.0" rx="3.8" ry="6.4" transform="rotate(15 571.2 308.0)" />
<polyline class="l" points="528.8,256.2 526.2,277.5" />
<polyline class="l" points="528.8,256.2 540.0,273.8" />
<polyline class="lt" points="531.9,263.8 541.2,276.9" />
<polyline class="l" points="510.0,283.8 526.2,277.5 540.6,276.9" />
<polyline class="lf" points="540.6,275.0 547.5,276.9 547.5,284.4 541.2,285.6 540.6,275.0" />
<polyline class="l" points="510.0,300.0 535.0,285.6" />
<polyline class="lt" points="515.0,302.5 536.9,288.8" />
<polyline class="l" points="579.4,131.8 639.6,150.4" />
<polyline class="l" points="576.6,141.2 636.7,159.8" />
<polygon class="th" points="579.9,132.0 599.5,138.0 596.6,147.4 577.0,141.3" />
<polyline class="tl" points="580.2,132.1 578.3,141.7" />
<polyline class="tl" points="581.8,132.6 579.9,142.2" />
<polyline class="tl" points="583.5,133.1 581.5,142.7" />
<polyline class="tl" points="585.1,133.6 583.1,143.2" />
<polyline class="tl" points="586.7,134.1 584.8,143.7" />
<polyline class="tl" points="588.3,134.6 586.4,144.2" />
<polyline class="tl" points="590.0,135.1 588.0,144.7" />
<polyline class="tl" points="591.6,135.6 589.6,145.2" />
<polyline class="tl" points="593.2,136.1 591.3,145.7" />
<polyline class="tl" points="594.8,136.6 592.9,146.2" />
<polyline class="tl" points="596.5,137.1 594.5,146.7" />
<polyline class="tl" points="598.1,137.6 596.1,147.2" />
<ellipse class="lf" cx="578.0" cy="136.5" rx="1.8" ry="4.9" transform="rotate(17.2 578.0 136.5)" />
<ellipse class="lf" cx="638.7" cy="155.3" rx="4.4" ry="9.2" transform="rotate(17.2 638.7 155.3)" />
<polygon class="lf" points="641.4,146.5 648.8,147.9 642.9,167.0 635.9,164.1" />
<ellipse class="lf" cx="645.8" cy="157.5" rx="6.0" ry="10.0" transform="rotate(17.2 645.8 157.5)" />
<polyline class="lt" points="640.0,151.0 642.5,151.2" />
<polyline class="lt" points="637.3,159.6 639.6,160.8" />
<ellipse class="lt" cx="646.4" cy="157.7" rx="4.0" ry="7.2" transform="rotate(17.2 646.4 157.7)" />
<polyline class="l" points="599.6,305.1 650.5,329.7" />
<polyline class="l" points="595.4,313.9 646.2,338.5" />
<polygon class="th" points="600.1,305.3 618.5,314.2 614.3,323.1 595.8,314.1" />
<polyline class="tl" points="600.4,305.4 597.0,314.7" />
<polyline class="tl" points="601.9,306.2 598.5,315.4" />
<polyline class="tl" points="603.4,306.9 600.0,316.2" />
<polyline class="tl" points="604.9,307.7 601.6,316.9" />
<polyline class="tl" points="606.5,308.4 603.1,317.7" />
<polyline class="tl" points="608.0,309.1 604.6,318.4" />
<polyline class="tl" points="609.5,309.9 606.2,319.1" />
<polyline class="tl" points="611.1,310.6 607.7,319.9" />
<polyline class="tl" points="612.6,311.4 609.2,320.6" />
<polyline class="tl" points="614.1,312.1 610.8,321.4" />
<polyline class="tl" points="615.7,312.8 612.3,322.1" />
<polyline class="tl" points="617.2,313.6 613.8,322.8" />
<ellipse class="lf" cx="597.5" cy="309.5" rx="1.8" ry="4.9" transform="rotate(25.8 597.5 309.5)" />
<ellipse class="lf" cx="648.8" cy="334.3" rx="4.4" ry="9.2" transform="rotate(25.8 648.8 334.3)" />
<polygon class="lf" points="652.8,326.0 659.5,328.4 650.8,346.4 644.8,342.6" />
<ellipse class="lf" cx="655.1" cy="337.4" rx="6.0" ry="10.0" transform="rotate(25.8 655.1 337.4)" />
<polyline class="lt" points="650.8,330.3 652.8,330.7" />
<polyline class="lt" points="646.9,338.4 648.4,339.7" />
<ellipse class="lt" cx="655.7" cy="337.6" rx="4.0" ry="7.2" transform="rotate(25.8 655.7 337.6)" />
<polyline class="l" points="509.9,465.7 565.5,497.6" />
<polyline class="l" points="505.1,474.3 560.6,506.1" />
<polygon class="th" points="510.4,466.0 529.0,476.7 524.2,485.2 505.5,474.5" />
<polyline class="tl" points="510.6,466.1 506.6,475.1" />
<polyline class="tl" points="512.1,467.0 508.1,476.0" />
<polyline class="tl" points="513.6,467.8 509.6,476.8" />
<polyline class="tl" points="515.1,468.7 511.1,477.7" />
<polyline class="tl" points="516.5,469.5 512.5,478.5" />
<polyline class="tl" points="518.0,470.4 514.0,479.4" />
<polyline class="tl" points="519.5,471.2 515.5,480.2" />
<polyline class="tl" points="521.0,472.1 517.0,481.1" />
<polyline class="tl" points="522.4,472.9 518.4,481.9" />
<polyline class="tl" points="523.9,473.7 519.9,482.8" />
<polyline class="tl" points="525.4,474.6 521.4,483.6" />
<polyline class="tl" points="526.9,475.4 522.9,484.4" />
<polyline class="tl" points="528.3,476.3 524.3,485.3" />
<ellipse class="lf" cx="507.5" cy="470.0" rx="1.8" ry="4.9" transform="rotate(29.8 507.5 470.0)" />
<ellipse class="lf" cx="563.5" cy="502.1" rx="4.4" ry="9.2" transform="rotate(29.8 563.5 502.1)" />
<polygon class="lf" points="568.0,494.1 574.9,497.1 565.0,514.5 558.9,510.0" />
<ellipse class="lf" cx="570.0" cy="505.8" rx="6.0" ry="10.0" transform="rotate(29.8 570.0 505.8)" />
<polyline class="lt" points="565.7,498.1 568.1,499.0" />
<polyline class="lt" points="561.2,506.0 563.2,507.6" />
<ellipse class="lt" cx="570.5" cy="506.1" rx="4.0" ry="7.2" transform="rotate(29.8 570.5 506.1)" />
<polyline class="l" points="546.8,448.7 608.6,479.3" />
<polyline class="l" points="542.8,456.7 604.6,487.4" />
<polygon class="th" points="547.2,448.9 564.7,457.6 560.7,465.6 543.2,457.0" />
<polyline class="tl" points="547.5,449.0 544.4,457.5" />
<polyline class="tl" points="549.0,449.8 545.9,458.3" />
<polyline class="tl" points="550.6,450.5 547.5,459.0" />
<polyline class="tl" points="552.1,451.3 549.0,459.8" />
<polyline class="tl" points="553.6,452.0 550.5,460.6" />
<polyline class="tl" points="555.1,452.8 552.0,461.3" />
<polyline class="tl" points="556.7,453.6 553.5,462.1" />
<polyline class="tl" points="558.2,454.3 555.1,462.8" />
<polyline class="tl" points="559.7,455.1 556.6,463.6" />
<polyline class="tl" points="561.2,455.8 558.1,464.3" />
<polyline class="tl" points="562.7,456.6 559.6,465.1" />
<ellipse class="lf" cx="544.8" cy="452.7" rx="1.6" ry="4.5" transform="rotate(26.4 544.8 452.7)" />
<polygon class="th" points="588.9,469.6 608.2,479.1 604.2,487.2 584.9,477.6" />
<polyline class="tl" points="589.2,469.7 586.1,478.2" />
<polyline class="tl" points="590.7,470.5 587.6,479.0" />
<polyline class="tl" points="592.2,471.2 589.1,479.7" />
<polyline class="tl" points="593.7,472.0 590.6,480.5" />
<polyline class="tl" points="595.3,472.7 592.2,481.2" />
<polyline class="tl" points="596.8,473.5 593.7,482.0" />
<polyline class="tl" points="598.3,474.2 595.2,482.7" />
<polyline class="tl" points="599.8,475.0 596.7,483.5" />
<polyline class="tl" points="601.3,475.7 598.2,484.3" />
<polyline class="tl" points="602.9,476.5 599.8,485.0" />
<polyline class="tl" points="604.4,477.3 601.3,485.8" />
<polyline class="tl" points="605.9,478.0 602.8,486.5" />
<ellipse class="lf" cx="606.6" cy="483.4" rx="1.6" ry="4.5" transform="rotate(26.4 606.6 483.4)" />
<polyline class="l" points="609.0,700.6 617.2,705.3" />
<polyline class="l" points="605.5,706.6 613.7,711.4" />
<polygon class="th" points="609.4,700.8 616.7,705.1 613.2,711.1 605.9,706.9" />
<polyline class="tl" points="609.6,701.0 607.0,707.5" />
<polyline class="tl" points="611.1,701.8 608.5,708.4" />
<polyline class="tl" points="612.6,702.7 610.0,709.2" />
<polyline class="tl" points="614.1,703.5 611.4,710.1" />
<polyline class="tl" points="615.5,704.4 612.9,710.9" />
<ellipse class="lf" cx="607.2" cy="703.6" rx="1.3" ry="3.5" transform="rotate(30 607.2 703.6)" />
<ellipse class="lf" cx="615.9" cy="708.6" rx="3.4" ry="7.1" transform="rotate(30 615.9 708.6)" />
<polygon class="lf" points="619.4,702.4 627.1,706.1 619.3,719.6 612.3,714.8" />
<ellipse class="lf" cx="623.2" cy="712.9" rx="4.6" ry="7.8" transform="rotate(30 623.2 712.9)" />
<polyline class="lt" points="617.6,705.6 621.8,707.6" />
<polyline class="lt" points="614.1,711.6 617.9,714.3" />
<ellipse class="lt" cx="623.7" cy="713.1" rx="3.1" ry="5.6" transform="rotate(30 623.7 713.1)" />
<ellipse class="lf" cx="576.8" cy="365.9" rx="6.3" ry="12.4" transform="rotate(24 576.8 365.9)" />
<polygon class="lf" points="586.8,374.2 579.1,378.0 574.4,372.1 577.4,362.2 585.1,358.4 589.8,364.3" />
<polyline class="lt" points="574.9,376.1 579.1,378.0" />
<polyline class="lt" points="570.2,370.2 574.4,372.1" />
<polyline class="lt" points="573.2,360.4 577.4,362.2" />
<polyline class="lt" points="580.9,356.5 585.1,358.4" />
<polyline class="lt" points="574.9,376.1 570.2,370.2 573.2,360.4 580.9,356.5" />
<ellipse class="hole" cx="583.2" cy="370.0" rx="4.1" ry="6.0" transform="rotate(24 583.2 370.0)" />
<polyline class="tl" points="581.0,363.9 579.1,373.2" />
<polyline class="tl" points="583.1,364.9 581.2,374.1" />
<polyline class="tl" points="585.2,365.8 583.3,375.0" />
<polyline class="tl" points="587.3,366.7 585.4,376.0" />
<ellipse class="lf" cx="628.1" cy="495.8" rx="6.8" ry="13.3" transform="rotate(25 628.1 495.8)" />
<polygon class="lf" points="638.6,504.8 630.3,508.8 625.4,502.4 628.8,491.9 637.1,487.9 642.0,494.4" />
<polyline class="lt" points="625.8,506.7 630.3,508.8" />
<polyline class="lt" points="620.9,500.3 625.4,502.4" />
<polyline class="lt" points="624.3,489.8 628.8,491.9" />
<polyline class="lt" points="632.6,485.9 637.1,487.9" />
<polyline class="lt" points="625.8,506.7 620.9,500.3 624.3,489.8 632.6,485.9" />
<ellipse class="hole" cx="634.8" cy="500.3" rx="4.4" ry="6.4" transform="rotate(25 634.8 500.3)" />
<polyline class="tl" points="632.7,493.8 630.3,503.6" />
<polyline class="tl" points="634.9,494.9 632.5,504.6" />
<polyline class="tl" points="637.1,495.9 634.8,505.7" />
<polyline class="tl" points="639.3,497.0 637.0,506.7" />
<ellipse class="lf" cx="656.8" cy="400.3" rx="23.0" ry="33.5" transform="rotate(19.2 656.8 400.3)" />
<polygon class="wf" points="667.8,368.7 681.5,375.0 659.5,438.2 645.7,431.9" />
<polyline class="l" points="667.8,368.7 681.5,375.0" />
<polyline class="l" points="645.7,431.9 659.5,438.2" />
<ellipse class="lf" cx="670.5" cy="406.6" rx="23.0" ry="33.5" transform="rotate(19.2 670.5 406.6)" />
<ellipse class="l" cx="671.0" cy="407.2" rx="21.0" ry="31.0" transform="rotate(19.2 671.0 407.2)" />
<ellipse class="lf" cx="671.3" cy="408.6" rx="17.0" ry="27.0" transform="rotate(19.2 671.3 408.6)" />
<path class="l" d="M672.0,390.0 C669.9,392.4 667.7,393.4 664.0,399.0 C660.3,404.6 660.3,405.0 658.0,411.0 C655.7,417.0 656.1,418.7 655.4,421.5" />
<polyline class="p" points="252.5,465.0 249.0,499.0" stroke-dasharray="16 3 3 3"/>
<polyline class="p" points="277.5,452.5 265.0,516.0" stroke-dasharray="16 3 3 3"/>
<polyline class="p" points="136.0,650.0 264.0,582.0" stroke-dasharray="14 4"/>
<polyline class="p" points="137.0,657.0 266.0,586.4" stroke-dasharray="14 4"/>
<polyline class="p" points="134.0,586.0 136.0,650.0" stroke-dasharray="14 4"/>
<polyline class="p" points="140.0,598.0 140.0,644.0" stroke-dasharray="14 4"/>
<polyline class="p" points="141.0,645.0 163.0,635.6" />
<polyline class="p" points="163.0,614.0 220.0,586.4" />
<polyline class="p" points="156.0,624.0 224.0,592.0 260.0,578.4" />
<path class="p" d="M146.0,600.0 C145.5,602.3 144.4,605.3 144.0,610.0 C143.6,614.7 143.0,616.5 144.4,620.0 C145.8,623.5 147.1,624.3 150.0,625.0 C152.9,625.7 154.0,625.5 157.0,623.0 C160.0,620.5 162.3,618.4 163.0,614.4 C163.7,610.4 161.6,610.1 160.0,606.0 C158.4,601.9 158.3,598.9 156.0,597.0 C153.7,595.1 151.4,597.8 150.0,598.0" />
<ellipse class="p" cx="153.0" cy="616.0" rx="2.4" ry="2.8" transform="rotate(0 153.0 616.0)" />
<path class="p" d="M174.0,601.0 C173.6,598.1 175.6,592.2 178.0,588.0 C180.4,583.8 183.8,580.2 186.0,580.0 C188.2,579.8 188.2,584.5 189.0,587.0 C189.8,589.5 191.8,589.3 190.0,592.4 C188.2,595.5 183.2,600.7 180.0,602.4 C176.8,604.1 174.4,603.9 174.0,601.0Z" />
<polyline class="p" points="177.0,592.0 188.0,597.0" />
<ellipse class="p" cx="195.0" cy="600.0" rx="2.2" ry="2.6" transform="rotate(0 195.0 600.0)" />
<ellipse class="p" cx="217.4" cy="588.0" rx="2.2" ry="2.6" transform="rotate(0 217.4 588.0)" />
<polyline class="p" points="192.0,595.0 214.0,588.0" stroke-dasharray="3 2"/>
<polyline class="p" points="226.0,556.0 218.0,586.4" />
<polyline class="p" points="232.0,560.0 224.0,591.0" />
<polyline class="p" points="223.0,558.0 215.6,585.0" stroke-dasharray="2 2"/>
<polyline class="p" points="144.0,540.0 148.0,580.0" />
<polyline class="p" points="150.0,540.0 154.0,578.0" />
<ellipse class="p" cx="149.0" cy="583.0" rx="2.6" ry="3.4" transform="rotate(0 149.0 583.0)" />
<ellipse class="p" cx="147.5" cy="546.0" rx="2.4" ry="3.0" transform="rotate(0 147.5 546.0)" />
<polyline class="p" points="242.0,562.0 239.0,591.0 263.0,583.0 264.0,578.0" />
<polyline class="p" points="149.5,488.0 149.5,496.2" />
<polyline class="p" points="155.5,485.0 156.2,498.5" />
<path class="p" d="M146.5,497.0 C145.9,500.6 143.2,508.4 143.5,515.0 C143.8,521.6 146.8,524.9 148.0,530.0 C149.2,535.1 149.7,536.6 149.5,540.5 C149.3,544.4 148.2,546.8 147.2,549.5 C146.3,552.2 145.4,553.1 145.0,554.0" />
<path class="p" d="M152.5,504.5 C151.9,506.3 149.5,508.4 149.5,513.5 C149.5,518.6 151.6,524.6 152.5,530.0 C153.4,535.4 154.2,535.7 154.0,540.5 C153.8,545.3 151.8,551.3 151.3,554.0" />
<ellipse class="p" cx="152.5" cy="502.3" rx="2.6" ry="3.2" transform="rotate(0 152.5 502.3)" />
<polyline class="p" points="145.0,513.5 136.0,588.5" stroke-dasharray="14 4"/>
<ellipse class="pf" cx="171.5" cy="519.3" rx="15.1" ry="24.6" transform="rotate(27.4 171.5 519.3)" />
<polygon class="wf" points="182.8,497.5 190.8,500.8 168.2,544.4 160.2,541.1" />
<polyline class="p" points="182.8,497.5 190.8,500.8" />
<polyline class="p" points="160.2,541.1 168.2,544.4" />
<ellipse class="pf" cx="179.5" cy="522.6" rx="15.1" ry="24.6" transform="rotate(27.4 179.5 522.6)" />
<path class="p" d="M163.9,542.8 C163.3,542.4 162.7,542.4 161.6,541.6 C160.4,540.7 160.5,540.8 159.6,539.7 C158.7,538.6 158.8,538.7 158.1,537.3 C157.4,535.8 157.5,536.0 157.0,534.3 C156.6,532.6 156.7,532.8 156.5,530.9 C156.4,529.0 156.4,529.3 156.5,527.2 C156.7,525.2 156.6,525.4 157.1,523.3 C157.5,521.2 157.4,521.5 158.1,519.3 C158.8,517.2 158.7,517.5 159.7,515.4 C160.6,513.3 160.5,513.5 161.6,511.6 C162.8,509.6 162.6,509.8 164.0,508.0 C165.3,506.2 165.2,506.4 166.6,504.9 C168.1,503.3 167.9,503.5 169.5,502.2 C171.1,500.9 170.9,501.0 172.5,500.0 C174.1,499.1 174.0,499.2 175.6,498.5 C177.2,497.9 177.0,497.9 178.6,497.7 C180.2,497.4 180.0,497.4 181.5,497.5 C182.9,497.6 182.8,497.6 184.1,498.0 C185.4,498.5 185.8,498.9 186.4,499.2" />
<path class="p" d="M166.4,543.8 C165.8,543.4 165.2,543.4 164.1,542.6 C162.9,541.7 163.0,541.8 162.1,540.7 C161.2,539.6 161.3,539.7 160.6,538.3 C159.9,536.8 160.0,537.0 159.5,535.3 C159.1,533.6 159.2,533.8 159.0,531.9 C158.9,530.0 158.9,530.3 159.0,528.2 C159.2,526.2 159.1,526.4 159.6,524.3 C160.0,522.2 159.9,522.5 160.6,520.3 C161.3,518.2 161.2,518.5 162.2,516.4 C163.1,514.3 163.0,514.5 164.1,512.6 C165.3,510.6 165.1,510.8 166.5,509.0 C167.8,507.2 167.7,507.4 169.1,505.9 C170.6,504.3 170.4,504.5 172.0,503.2 C173.6,501.9 173.4,502.0 175.0,501.0 C176.6,500.1 176.5,500.2 178.1,499.5 C179.7,498.9 179.5,498.9 181.1,498.7 C182.7,498.4 182.5,498.4 184.0,498.5 C185.4,498.6 185.3,498.6 186.6,499.0 C187.9,499.5 188.3,499.9 188.9,500.2" />
<ellipse class="pf" cx="181.0" cy="525.5" rx="12.8" ry="20.9" transform="rotate(27.4 181.0 525.5)" />
<ellipse class="p" cx="181.5" cy="526.5" rx="9.5" ry="15.5" transform="rotate(27.4 181.5 526.5)" />
<ellipse class="pf" cx="181.8" cy="527.8" rx="5.6" ry="8.6" transform="rotate(27.4 181.8 527.8)" />
<polygon class="wf" points="182.5,520.5 220.0,543.5 215.5,551.8 179.5,533.5" />
<polyline class="p" points="182.5,520.5 220.0,543.5" />
<polyline class="p" points="179.5,533.5 215.5,551.8" />
<ellipse class="pf" cx="218.5" cy="547.5" rx="3.6" ry="5.6" transform="rotate(27.4 218.5 547.5)" />
<ellipse class="pf" cx="221.0" cy="548.6" rx="3.6" ry="5.6" transform="rotate(27.4 221.0 548.6)" />
<ellipse class="pf" cx="215.0" cy="517.0" rx="16.2" ry="26.5" transform="rotate(27.4 215.0 517.0)" />
<polygon class="wf" points="227.2,493.5 250.2,503.3 225.8,550.3 202.8,540.5" />
<polyline class="p" points="227.2,493.5 250.2,503.3" />
<polyline class="p" points="202.8,540.5 225.8,550.3" />
<ellipse class="pf" cx="238.0" cy="526.8" rx="16.2" ry="26.5" transform="rotate(27.4 238.0 526.8)" />
<polyline class="p" points="205.5,541.5 221.6,546.4" />
<polyline class="p" points="202.3,540.3 220.0,542.8" />
<polyline class="p" points="199.7,538.0 219.2,538.5" />
<polyline class="p" points="197.7,534.9 219.3,533.8" />
<polyline class="p" points="196.5,530.9 220.1,528.7" />
<polyline class="p" points="196.1,526.4 221.7,523.5" />
<polyline class="p" points="196.6,521.5 224.1,518.5" />
<polyline class="p" points="197.8,516.3 227.0,513.9" />
<polyline class="p" points="199.8,511.2 230.4,509.8" />
<polyline class="p" points="202.5,506.3 234.2,506.4" />
<polyline class="p" points="205.7,501.9 238.1,504.0" />
<polyline class="p" points="209.3,498.2 242.0,502.5" />
<polyline class="p" points="213.1,495.3 245.8,502.1" />
<polyline class="p" points="217.1,493.3 249.2,502.8" />
<polyline class="p" points="220.9,492.4 252.1,504.5" />
<polyline class="p" points="224.5,492.5 254.4,507.2" />
<polyline class="p" points="227.7,493.7 256.0,510.8" />
<polyline class="p" points="230.3,496.0 256.8,515.1" />
<ellipse class="pf" cx="240.5" cy="528.0" rx="14.5" ry="23.5" transform="rotate(27.4 240.5 528.0)" />
<ellipse class="pf" cx="243.0" cy="529.0" rx="12.0" ry="19.5" transform="rotate(27.4 243.0 529.0)" />
<polygon class="wf" points="252.0,511.7 286.0,528.7 268.0,563.3 234.0,546.3" />
<polyline class="p" points="252.0,511.7 286.0,528.7" />
<polyline class="p" points="234.0,546.3 268.0,563.3" />
<ellipse class="pf" cx="277.0" cy="546.0" rx="12.0" ry="19.5" transform="rotate(27.4 277.0 546.0)" />
<polygon class="pf" points="270.5,528.8 281.0,530.2 288.5,537.0 293.8,544.5 293.0,558.0 285.5,568.5 275.0,568.5 263.0,564.0 260.0,552.0 263.0,540.0" />
<polyline class="p" points="263.0,540.0 275.0,543.0 281.0,530.2" />
<polyline class="p" points="275.0,543.0 273.5,564.0 263.0,564.0" />
<ellipse class="pf" cx="284.5" cy="554.0" rx="8.8" ry="14.0" transform="rotate(27.4 284.5 554.0)" />
<ellipse class="p" cx="285.3" cy="554.8" rx="5.6" ry="8.8" transform="rotate(27.4 285.3 554.8)" />
<ellipse class="p" cx="286.5" cy="555.5" rx="2.8" ry="4.2" transform="rotate(27.4 286.5 555.5)" />
<polyline class="p" points="224.8,550.5 215.0,591.0" />
<polyline class="p" points="260.0,558.0 261.5,577.5 262.2,582.8" />
<polyline class="p" points="243.5,552.0 239.3,577.5" />
<path class="p" d="M218.5,479.0 C219.9,477.2 224.5,473.9 229.0,474.8 C233.5,475.7 237.6,479.1 241.0,483.5 C244.4,487.9 245.8,494.0 245.8,497.0 C245.8,500.0 243.2,500.4 241.0,498.5 C238.8,496.6 237.7,490.5 235.0,487.2 C232.3,484.0 230.1,483.0 227.5,482.3 C224.9,481.6 223.6,484.5 221.8,483.8 C220.0,483.1 217.1,480.8 218.5,479.0Z" />
<ellipse class="lf" cx="311.1" cy="600.2" rx="18.8" ry="29.5" transform="rotate(30.26596997435101 311.1 600.2)" />
<ellipse class="lf" cx="312.6" cy="600.9" rx="18.8" ry="29.5" transform="rotate(30.26596997435101 312.6 600.9)" />
<ellipse class="lf" cx="313.5" cy="600.6" rx="13.9" ry="22.4" transform="rotate(30.26596997435101 313.5 600.6)" />
<ellipse class="tb" cx="378.7" cy="638.0" rx="32.7" ry="52.8" transform="rotate(27.4 378.7 638.0)" />
<polygon class="tb" points="402.6,591.8 411.7,596.3 363.8,688.7 354.8,684.2" />
<polyline class="tt" points="370.9,687.0 379.3,690.3" />
<polyline class="tt" points="368.7,687.5 377.2,690.7" />
<polyline class="tt" points="366.6,687.7 375.2,690.9" />
<polyline class="tt" points="364.5,687.8 373.2,690.9" />
<polyline class="tt" points="362.5,687.7 371.3,690.8" />
<polyline class="tt" points="360.5,687.5 369.4,690.6" />
<polyline class="tt" points="358.6,687.1 367.6,690.1" />
<polyline class="tt" points="356.7,686.5 365.8,689.6" />
<polyline class="tt" points="355.0,685.8 364.1,688.8" />
<polyline class="tt" points="353.3,684.9 362.5,687.9" />
<polyline class="tt" points="351.6,683.9 361.0,686.9" />
<polyline class="tt" points="350.1,682.7 359.6,685.7" />
<polyline class="tt" points="348.7,681.4 358.2,684.4" />
<polyline class="tt" points="347.4,679.9 357.0,682.9" />
<polyline class="tt" points="346.1,678.3 355.8,681.3" />
<polyline class="tt" points="345.0,676.5 354.8,679.5" />
<polyline class="tt" points="344.0,674.6 353.9,677.7" />
<polyline class="tt" points="343.1,672.6 353.1,675.7" />
<polyline class="tt" points="342.3,670.5 352.4,673.6" />
<polyline class="tt" points="341.7,668.3 351.8,671.4" />
<polyline class="tt" points="341.1,665.9 351.3,669.1" />
<polyline class="tt" points="340.7,663.5 351.0,666.8" />
<polyline class="tt" points="340.5,661.0 350.8,664.3" />
<polyline class="tt" points="340.3,658.4 350.7,661.8" />
<polyline class="tt" points="340.3,655.8 350.7,659.2" />
<polyline class="tt" points="340.4,653.1 350.9,656.6" />
<polyline class="tt" points="340.6,650.3 351.1,653.9" />
<polyline class="tt" points="341.0,647.5 351.5,651.1" />
<polyline class="tt" points="341.4,644.7 352.1,648.4" />
<polyline class="tt" points="342.0,641.8 352.7,645.6" />
<polyline class="tt" points="342.8,639.0 353.4,642.8" />
<polyline class="tt" points="343.6,636.1 354.3,640.0" />
<polyline class="tt" points="344.6,633.2 355.3,637.2" />
<polyline class="tt" points="345.6,630.4 356.4,634.5" />
<polyline class="tt" points="346.8,627.6 357.5,631.7" />
<polyline class="tt" points="348.1,624.8 358.8,629.0" />
<polyline class="tt" points="349.5,622.0 360.2,626.4" />
<polyline class="tt" points="351.0,619.3 361.7,623.8" />
<polyline class="tt" points="352.6,616.7 363.2,621.2" />
<polyline class="tt" points="354.2,614.2 364.9,618.8" />
<polyline class="tt" points="356.0,611.7 366.6,616.4" />
<polyline class="tt" points="357.8,609.3 368.4,614.1" />
<polyline class="tt" points="359.7,607.0 370.2,611.9" />
<polyline class="tt" points="361.6,604.8 372.2,609.8" />
<polyline class="tt" points="363.7,602.7 374.1,607.8" />
<polyline class="tt" points="365.7,600.7 376.1,605.9" />
<polyline class="tt" points="367.8,598.9 378.2,604.1" />
<polyline class="tt" points="370.0,597.2 380.2,602.5" />
<polyline class="tt" points="372.1,595.6 382.3,601.0" />
<polyline class="tt" points="374.3,594.2 384.5,599.6" />
<polyline class="tt" points="376.5,592.9 386.6,598.4" />
<polyline class="tt" points="378.7,591.7 388.7,597.3" />
<polyline class="tt" points="380.9,590.8 390.9,596.4" />
<polyline class="tt" points="383.2,589.9 393.0,595.6" />
<polyline class="tt" points="385.3,589.2 395.1,595.0" />
<polyline class="tt" points="387.5,588.7 397.2,594.5" />
<polyline class="tt" points="389.6,588.4 399.2,594.2" />
<polyline class="tt" points="391.8,588.2 401.2,594.1" />
<polyline class="tt" points="393.8,588.2 403.2,594.1" />
<polyline class="tt" points="395.8,588.3 405.1,594.3" />
<polyline class="tt" points="397.8,588.7 407.0,594.6" />
<polyline class="tt" points="399.7,589.1 408.8,595.1" />
<polyline class="tt" points="401.5,589.8 410.5,595.8" />
<polyline class="tt" points="403.2,590.6 412.1,596.6" />
<polyline class="tt" points="404.9,591.5 413.7,597.5" />
<polyline class="tt" points="406.5,592.6 415.2,598.6" />
<polyline class="tt" points="407.9,593.9 416.6,599.9" />
<polyline class="tt" points="409.3,595.3 417.9,601.3" />
<polyline class="tt" points="410.6,596.8 419.0,602.8" />
<polyline class="tt" points="411.8,598.5 420.1,604.5" />
<polyline class="tt" points="412.9,600.3 421.1,606.3" />
<polyline class="tt" points="413.8,602.3 422.0,608.2" />
<ellipse class="lf" cx="387.8" cy="642.5" rx="31.9" ry="52.0" transform="rotate(27.4 387.8 642.5)" />
<polyline class="tt" points="422.6,609.9 424.6,610.6" />
<polyline class="tt" points="423.3,612.0 425.3,612.8" />
<polyline class="tt" points="423.8,614.2 425.8,615.0" />
<polyline class="tt" points="424.3,616.5 426.2,617.3" />
<polyline class="tt" points="424.6,618.9 426.6,619.7" />
<polyline class="tt" points="424.8,621.4 426.7,622.2" />
<polyline class="tt" points="424.8,623.9 426.8,624.8" />
<polyline class="tt" points="424.7,626.5 426.7,627.4" />
<polyline class="tt" points="424.6,629.2 426.6,630.0" />
<polyline class="tt" points="424.3,631.9 426.3,632.8" />
<polyline class="tt" points="423.8,634.6 425.8,635.5" />
<polyline class="tt" points="423.3,637.4 425.3,638.3" />
<polyline class="tt" points="422.6,640.2 424.6,641.1" />
<polyline class="tt" points="421.8,642.9 423.8,643.9" />
<polyline class="tt" points="420.9,645.7 422.9,646.7" />
<polyline class="tt" points="419.9,648.5 421.9,649.5" />
<polyline class="tt" points="418.8,651.3 420.8,652.2" />
<polyline class="tt" points="417.6,654.0 419.6,655.0" />
<polyline class="tt" points="416.3,656.7 418.3,657.7" />
<polyline class="tt" points="414.9,659.3 416.9,660.3" />
<polyline class="tt" points="413.4,661.9 415.4,662.9" />
<polyline class="tt" points="411.8,664.4 413.8,665.5" />
<polyline class="tt" points="410.1,666.9 412.1,667.9" />
<polyline class="tt" points="408.4,669.3 410.4,670.3" />
<polyline class="tt" points="406.6,671.5 408.5,672.6" />
<polyline class="tt" points="404.7,673.7 406.7,674.8" />
<polyline class="tt" points="402.8,675.8 404.7,676.9" />
<polyline class="tt" points="400.8,677.8 402.7,678.8" />
<polyline class="tt" points="398.8,679.6 400.7,680.7" />
<polyline class="tt" points="396.8,681.4 398.7,682.4" />
<polyline class="tt" points="394.7,683.0 396.6,684.0" />
<polyline class="tt" points="392.6,684.4 394.4,685.5" />
<polyline class="tt" points="390.5,685.7 392.3,686.8" />
<polyline class="tt" points="388.3,686.9 390.2,688.0" />
<polyline class="tt" points="386.2,688.0 388.0,689.1" />
<polyline class="tt" points="384.1,688.9 385.9,690.0" />
<polyline class="tt" points="381.9,689.6 383.8,690.7" />
<ellipse class="l" cx="390.0" cy="644.1" rx="22.0" ry="35.9" transform="rotate(27.4 390.0 644.1)" />
<ellipse class="lf" cx="393.4" cy="647.5" rx="15.8" ry="25.8" transform="rotate(27.4 393.4 647.5)" />
<ellipse class="lf" cx="396.5" cy="649.0" rx="15.3" ry="25.0" transform="rotate(27.4 396.5 649.0)" />
<ellipse class="lf" cx="400.0" cy="650.8" rx="15.3" ry="25.0" transform="rotate(27.4 400.0 650.8)" />
<ellipse class="lf" cx="403.0" cy="653.0" rx="15.5" ry="25.4" transform="rotate(27.4 403.0 653.0)" />
<polygon class="wf" points="414.7,630.4 427.2,637.3 403.8,682.5 391.3,675.6" />
<polyline class="l" points="414.7,630.4 427.2,637.3" />
<polyline class="l" points="391.3,675.6 403.8,682.5" />
<ellipse class="lf" cx="415.5" cy="659.9" rx="15.5" ry="25.4" transform="rotate(27.4 415.5 659.9)" />
<ellipse class="l" cx="415.8" cy="660.2" rx="13.3" ry="21.7" transform="rotate(27.4 415.8 660.2)" />
<ellipse class="lf" cx="442.5" cy="673.0" rx="10.4" ry="16.9" transform="rotate(27.4 442.5 673.0)" />
<ellipse class="l" cx="445.7" cy="674.6" rx="10.4" ry="16.9" transform="rotate(27.4 445.7 674.6)" />
<ellipse class="l" cx="448.9" cy="676.1" rx="10.4" ry="16.9" transform="rotate(27.4 448.9 676.1)" />
<ellipse class="l" cx="452.1" cy="677.7" rx="10.4" ry="16.9" transform="rotate(27.4 452.1 677.7)" />
<ellipse class="l" cx="455.3" cy="679.2" rx="10.4" ry="16.9" transform="rotate(27.4 455.3 679.2)" />
<ellipse class="l" cx="458.5" cy="680.8" rx="10.4" ry="16.9" transform="rotate(27.4 458.5 680.8)" />
<ellipse class="lf" cx="458.5" cy="680.8" rx="10.4" ry="16.9" transform="rotate(27.4 458.5 680.8)" />
<ellipse class="l" cx="458.8" cy="681.0" rx="8.2" ry="14.0" transform="rotate(27.4 458.8 681.0)" />
<path class="l" d="M440.6,690.3 C440.1,690.2 439.7,690.2 438.8,689.9 C437.8,689.6 437.9,689.7 437.1,689.1 C436.4,688.5 436.4,688.6 435.8,687.8 C435.2,687.0 435.2,687.1 434.7,686.1 C434.3,685.1 434.3,685.3 434.0,684.1 C433.7,682.9 433.8,683.1 433.7,681.8 C433.6,680.5 433.6,680.6 433.7,679.2 C433.8,677.9 433.8,678.0 434.0,676.6 C434.3,675.1 434.3,675.3 434.8,673.8 C435.2,672.4 435.2,672.5 435.8,671.1 C436.5,669.7 436.4,669.8 437.2,668.5 C438.0,667.1 437.9,667.3 438.8,666.1 C439.7,664.8 439.6,665.0 440.6,663.9 C441.6,662.8 441.5,662.9 442.6,662.0 C443.7,661.1 443.6,661.2 444.7,660.6 C445.8,659.9 445.7,660.0 446.8,659.5 C447.9,659.1 447.8,659.1 448.8,658.9 C449.9,658.8 449.8,658.8 450.8,658.8 C451.8,658.9 451.7,658.9 452.6,659.2 C453.6,659.5 453.5,659.5 454.3,660.0 C455.0,660.6 455.2,661.0 455.6,661.3" />
<path class="l" d="M443.8,691.9 C443.3,691.8 442.9,691.8 442.0,691.5 C441.0,691.2 441.1,691.2 440.3,690.6 C439.6,690.1 439.6,690.2 439.0,689.4 C438.4,688.6 438.4,688.7 437.9,687.7 C437.5,686.7 437.5,686.8 437.2,685.7 C436.9,684.5 437.0,684.6 436.9,683.3 C436.8,682.0 436.8,682.2 436.9,680.8 C437.0,679.4 437.0,679.6 437.2,678.1 C437.5,676.7 437.5,676.8 438.0,675.4 C438.4,673.9 438.4,674.1 439.0,672.7 C439.7,671.2 439.6,671.4 440.4,670.0 C441.2,668.7 441.1,668.8 442.0,667.6 C442.9,666.4 442.8,666.5 443.8,665.4 C444.8,664.4 444.7,664.5 445.8,663.6 C446.9,662.7 446.8,662.8 447.9,662.1 C449.0,661.5 448.9,661.5 450.0,661.1 C451.1,660.7 451.0,660.7 452.0,660.5 C453.1,660.3 453.0,660.3 454.0,660.4 C455.0,660.5 454.9,660.4 455.8,660.8 C456.8,661.1 456.7,661.0 457.5,661.6 C458.2,662.2 458.4,662.5 458.8,662.9" />
<path class="l" d="M447.0,693.4 C446.5,693.3 446.1,693.4 445.2,693.0 C444.2,692.7 444.3,692.8 443.5,692.2 C442.8,691.6 442.8,691.7 442.2,690.9 C441.6,690.1 441.6,690.2 441.1,689.3 C440.7,688.3 440.7,688.4 440.4,687.2 C440.1,686.1 440.2,686.2 440.1,684.9 C440.0,683.6 440.0,683.8 440.1,682.4 C440.2,681.0 440.2,681.1 440.4,679.7 C440.7,678.2 440.7,678.4 441.2,676.9 C441.6,675.5 441.6,675.6 442.2,674.2 C442.9,672.8 442.8,673.0 443.6,671.6 C444.4,670.3 444.3,670.4 445.2,669.2 C446.1,667.9 446.0,668.1 447.0,667.0 C448.0,665.9 447.9,666.0 449.0,665.2 C450.1,664.3 450.0,664.4 451.1,663.7 C452.2,663.0 452.1,663.1 453.2,662.6 C454.3,662.2 454.2,662.2 455.2,662.1 C456.3,661.9 456.2,661.9 457.2,661.9 C458.2,662.0 458.1,662.0 459.0,662.3 C460.0,662.6 459.9,662.6 460.7,663.2 C461.4,663.7 461.6,664.1 462.0,664.4" />
<path class="l" d="M450.2,695.0 C449.7,694.9 449.3,694.9 448.4,694.6 C447.4,694.3 447.5,694.3 446.7,693.8 C446.0,693.2 446.0,693.3 445.4,692.5 C444.8,691.7 444.8,691.8 444.3,690.8 C443.9,689.8 443.9,689.9 443.6,688.8 C443.3,687.6 443.4,687.8 443.3,686.5 C443.2,685.2 443.2,685.3 443.3,683.9 C443.4,682.5 443.4,682.7 443.6,681.2 C443.9,679.8 443.9,680.0 444.4,678.5 C444.8,677.0 444.8,677.2 445.4,675.8 C446.1,674.4 446.0,674.5 446.8,673.2 C447.6,671.8 447.5,672.0 448.4,670.7 C449.3,669.5 449.2,669.6 450.2,668.6 C451.2,667.5 451.1,667.6 452.2,666.7 C453.3,665.8 453.2,665.9 454.3,665.2 C455.4,664.6 455.3,664.6 456.4,664.2 C457.5,663.8 457.4,663.8 458.4,663.6 C459.5,663.4 459.4,663.4 460.4,663.5 C461.4,663.6 461.3,663.6 462.2,663.9 C463.2,664.2 463.1,664.1 463.9,664.7 C464.6,665.3 464.8,665.6 465.2,666.0" />
<ellipse class="lf" cx="482.3" cy="699.6" rx="13.1" ry="21.4" transform="rotate(27.4 482.3 699.6)" />
<polygon class="wf" points="492.1,680.6 514.6,691.1 494.9,729.1 472.5,718.6" />
<polyline class="l" points="492.1,680.6 514.6,691.1" />
<polyline class="l" points="472.5,718.6 494.9,729.1" />
<ellipse class="lf" cx="504.8" cy="710.1" rx="13.1" ry="21.4" transform="rotate(27.4 504.8 710.1)" />
<ellipse class="l" cx="504.9" cy="710.2" rx="11.2" ry="18.6" transform="rotate(27.4 504.9 710.2)" />
<polyline class="l" points="507.8,693.2 501.0,706.0 495.0,710.5 491.7,715.8" />
<polyline class="l" points="495.0,710.5 508.5,715.0 504.0,724.8" />
<polyline class="l" points="501.0,706.0 513.8,710.5" />
<polyline class="lt" points="513.8,698.5 513.8,710.5 518.2,711.2" />
<polyline class="l" points="498.0,717.2 499.5,728.5" />
<polyline class="lt" points="508.5,715.0 516.0,717.2" />
<ellipse class="l" cx="490.5" cy="686.5" rx="2.3" ry="1.3" transform="rotate(20 490.5 686.5)" />
<ellipse class="lf" cx="314.5" cy="677.3" rx="2.8" ry="4.6" transform="rotate(21.593969241769667 314.5 677.3)" />
<polygon class="wf" points="316.2,673.0 325.3,676.6 321.9,685.2 312.8,681.6" />
<polyline class="l" points="316.2,673.0 325.3,676.6" />
<polyline class="l" points="312.8,681.6 321.9,685.2" />
<ellipse class="lf" cx="323.6" cy="680.9" rx="2.8" ry="4.6" transform="rotate(21.593969241769667 323.6 680.9)" />
<ellipse class="l" cx="323.6" cy="680.9" rx="1.6" ry="2.8" transform="rotate(21.583969241769665 323.6 680.9)" />
<ellipse class="lf" cx="400.8" cy="711.4" rx="2.6" ry="4.3" transform="rotate(26.57505117707799 400.8 711.4)" />
<polygon class="wf" points="402.7,707.6 409.7,711.1 405.9,718.7 398.9,715.2" />
<polyline class="l" points="402.7,707.6 409.7,711.1" />
<polyline class="l" points="398.9,715.2 405.9,718.7" />
<ellipse class="lf" cx="407.8" cy="714.9" rx="2.6" ry="4.3" transform="rotate(26.57505117707799 407.8 714.9)" />
<ellipse class="l" cx="407.8" cy="714.9" rx="1.5" ry="2.6" transform="rotate(26.56505117707799 407.8 714.9)" />
<path class="lf" d="M551.2,694.5 C551.9,690.6 552.3,688.4 554.2,685.5 C556.2,682.6 558.1,681.1 561.0,679.8 C563.9,678.4 566.0,678.2 568.5,678.8 C571.0,679.3 571.8,682.4 573.8,682.5 C575.7,682.6 576.3,680.9 578.2,679.5 C580.2,678.1 581.2,676.2 583.5,675.8 C585.8,675.3 587.8,675.9 589.5,677.2 C591.2,678.6 591.8,680.1 592.0,682.5 C592.3,684.9 592.4,687.0 591.0,689.2 C589.6,691.5 587.7,692.0 585.0,693.8 C582.3,695.5 580.0,696.0 577.5,698.2 C575.0,700.5 573.5,697.6 572.2,705.0 C571.0,712.4 572.0,724.5 571.5,735.0 C571.0,745.5 570.8,751.8 570.0,757.5 C569.2,763.2 569.9,761.5 567.8,763.5 C565.6,765.5 561.8,767.0 559.5,767.2 C557.2,767.5 557.2,771.5 556.2,765.0 C555.2,758.5 555.2,747.0 554.2,735.0 C553.3,723.0 551.9,713.1 551.2,705.0 C550.6,696.9 550.6,698.4 551.2,694.5Z" />
<path class="lt" d="M553.8,696.0 C553.8,697.8 553.3,697.2 553.8,705.0 C554.3,712.8 555.5,723.0 556.5,735.0 C557.5,747.0 558.3,759.0 558.8,765.0" />
<ellipse class="l" cx="562.5" cy="691.5" rx="3.1" ry="4.0" transform="rotate(15 562.5 691.5)" />
<ellipse class="l" cx="583.5" cy="686.2" rx="3.4" ry="4.4" transform="rotate(15 583.5 686.2)" />
<rect x="561" y="741" width="3.8" height="21" rx="1.8" fill="#8a8a8a" stroke="#666" stroke-width="0.6"/>
<text x="162.0" y="51.5" font-size="12" text-anchor="middle" >12</text>
<text x="491.0" y="54.5" font-size="12" text-anchor="middle" >7</text>
<text x="667.0" y="120.5" font-size="12" text-anchor="middle" >4</text>
<text x="677.5" y="308.5" font-size="12" text-anchor="middle" >2</text>
<text x="559.0" y="410.5" font-size="12" text-anchor="middle" >1</text>
<text x="629.0" y="470.5" font-size="12" text-anchor="middle" >8</text>
<text x="604.0" y="439.5" font-size="12" text-anchor="middle" >10</text>
<text x="540.0" y="547.0" font-size="12" text-anchor="middle" >11</text>
<text x="607.0" y="546.5" font-size="12" text-anchor="middle" >1</text>
<text x="347.5" y="557.0" font-size="12" text-anchor="middle" >5</text>
<text x="311.0" y="650.5" font-size="12" text-anchor="middle" >9B</text>
<text x="492.5" y="637.0" font-size="12" text-anchor="middle" >9C</text>
<text x="422.5" y="752.0" font-size="12" text-anchor="middle" >9A</text>
<text x="332.5" y="759.5" font-size="12" text-anchor="middle" >9</text>
<text x="604.0" y="655.5" font-size="12" text-anchor="middle" >6</text>
<text x="655.0" y="678.0" font-size="12" text-anchor="middle" >3</text>
<line class="ld" x1="170.5" y1="52.0" x2="189.0" y2="71.0" />
<line class="ld" x1="489.0" y1="58.0" x2="471.0" y2="85.0" />
<line class="ld" x1="661.0" y1="124.0" x2="647.5" y2="151.0" />
<line class="ld" x1="672.5" y1="311.0" x2="661.0" y2="331.0" />
<line class="ld" x1="575.0" y1="377.5" x2="565.0" y2="399.0" />
<line class="ld" x1="645.0" y1="437.5" x2="637.5" y2="459.0" />
<line class="ld" x1="596.0" y1="440.0" x2="577.5" y2="461.0" />
<line class="ld" x1="564.0" y1="512.5" x2="551.0" y2="536.0" />
<line class="ld" x1="625.0" y1="509.0" x2="614.0" y2="535.0" />
<line class="ld" x1="343.8" y1="560.0" x2="327.0" y2="579.0" />
<line class="ld" x1="318.6" y1="654.0" x2="319.0" y2="670.6" />
<line class="ld" x1="480.0" y1="640.0" x2="460.0" y2="664.0" />
<line class="ld" x1="407.5" y1="717.5" x2="414.0" y2="740.0" />
<line class="ld" x1="341.0" y1="749.0" x2="357.5" y2="741.0" />
<line class="ld" x1="597.5" y1="660.0" x2="584.0" y2="681.0" />
<line class="ld" x1="650.0" y1="679.5" x2="629.0" y2="703.5" />
<polyline class="ld" points="278.0,676.0 263.0,684.0 436.0,785.0 495.5,750.0" />
<line class="d" x1="500.0" y1="109.0" x2="574.0" y2="134.0" stroke-dasharray="34 3 8 3"/>
<line class="d" x1="547.5" y1="282.5" x2="590.0" y2="303.8" stroke-dasharray="32 3 6 3"/>
<line class="d" x1="411.0" y1="283.0" x2="570.0" y2="362.0" stroke-dasharray="55 3 9 3"/>
<line class="d" x1="539.5" y1="333.0" x2="584.0" y2="353.5" />
<line class="d" x1="588.0" y1="355.3" x2="626.5" y2="371.5" stroke-dasharray="9 3 40 3"/>
<polyline class="d" points="626.5,371.3 613.4,378.9" />
<line class="d" x1="610.0" y1="382.3" x2="634.8" y2="393.3" stroke-dasharray="7 3 20 3"/>
<line class="d" x1="672.0" y1="410.5" x2="698.0" y2="421.5" />
<polyline class="d" points="536.0,418.0 554.0,431.0 532.5,444.0" />
<line class="d" x1="532.5" y1="444.0" x2="544.0" y2="450.0" stroke-dasharray="5 2"/>
<line class="d" x1="607.5" y1="485.0" x2="622.5" y2="492.5" />
<line class="d" x1="472.5" y1="452.5" x2="505.0" y2="469.0" stroke-dasharray="34 3 8 3"/>
<line class="d" x1="228.0" y1="553.7" x2="292.7" y2="589.5" stroke-dasharray="36 3 8 3"/>
<line class="d" x1="314.0" y1="602.6" x2="346.3" y2="620.5" />
<line class="d" x1="414.0" y1="657.5" x2="429.0" y2="665.0" />
<line class="d" x1="456.0" y1="682.0" x2="471.0" y2="690.2" />
<line class="d" x1="584.2" y1="687.8" x2="606.0" y2="700.5" />
<g opacity="0.45">
<text x="0" y="0" font-size="39" font-weight="bold" letter-spacing="3.4" transform="translate(257,373.0) rotate(15.3) scale(0.82,1)" style="fill:rgb(250,160,100);stroke:rgb(250,160,100);stroke-width:1.6;stroke-linejoin:round">Fab</text>
<text x="0" y="0" font-size="39" font-weight="bold" letter-spacing="1.0" transform="translate(330,393.0) rotate(15.3) scale(0.82,1)" style="fill:rgb(250,160,100);stroke:rgb(250,160,100);stroke-width:1.6;stroke-linejoin:round">Heavy</text>
<text x="0" y="0" font-size="39" font-weight="bold" letter-spacing="4.2" transform="translate(455,427.2) rotate(15.3) scale(0.82,1)" style="fill:rgb(250,160,100);stroke:rgb(250,160,100);stroke-width:1.6;stroke-linejoin:round">Parts</text>
</g>
</svg>
</body></html>
